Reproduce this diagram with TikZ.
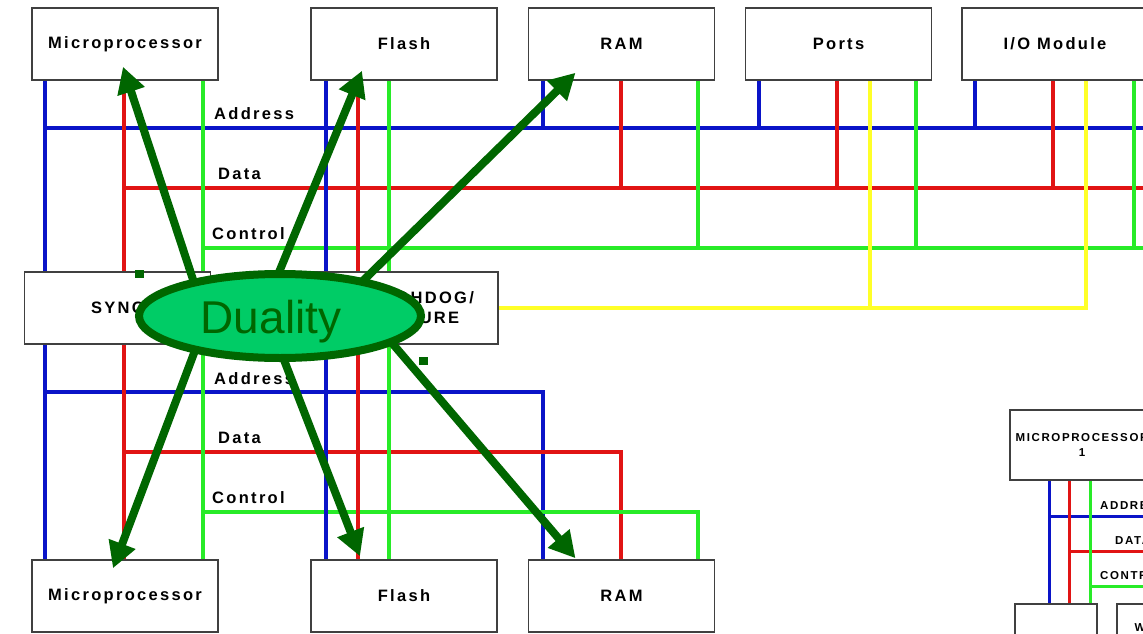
\documentclass[tikz,border=0pt]{standalone}
\usepackage{fontspec}
\setmainfont{Liberation Sans}
\newfontfamily\boxfont{Liberation Sans}[LetterSpace=14]
\usetikzlibrary{arrows.meta,shapes.geometric}

\definecolor{busblue}{RGB}{10,20,200}
\definecolor{busred}{RGB}{225,20,20}
\definecolor{busgreen}{RGB}{40,235,40}
\definecolor{busyellow}{RGB}{255,255,40}
\definecolor{dualfill}{RGB}{0,204,102}
\definecolor{dualdark}{RGB}{0,102,0}
\definecolor{boxgray}{RGB}{64,64,64}

\tikzset{
  unit/.style={draw=boxgray, line width=1.5pt, fill=white, inner sep=0pt,
    minimum width=186pt, minimum height=72pt,
    font=\boxfont\bfseries\fontsize{16.5}{20}\selectfont},
  smallunit/.style={unit, align=center,
    font=\boxfont\bfseries\fontsize{11.5}{15}\selectfont},
  addrbus/.style={draw=busblue, line width=4pt},
  databus/.style={draw=busred, line width=4pt},
  ctrlbus/.style={draw=busgreen, line width=4pt},
  wdogbus/.style={draw=busyellow, line width=4pt},
  buslabel/.style={anchor=west, inner sep=0pt,
    font=\boxfont\bfseries\fontsize{16.5}{20}\selectfont},
  smalllabel/.style={anchor=west, inner sep=0pt,
    font=\boxfont\bfseries\fontsize{11.5}{15}\selectfont},
  dualarrow/.style={draw=dualdark, line width=8pt,
    -{Triangle[length=26pt,width=27pt]}},
}

\begin{document}
\begin{tikzpicture}[x=1pt,y=-1pt]
                      \useasboundingbox (0,0) rectangle (1143,634);
                      \clip (0,0) rectangle (1143,634);

                      % Boxes are placed first so the buses can use them
                      \node[unit] (mpTop) at (125,44) {Microprocessor};
                      \node[unit] (flashTop) at (404,44) {Flash};
                      \node[unit] (ramTop) at (621.5,44) {RAM};
                      \node[unit] (portsTop) at (838.5,44) {Ports};
                      \node[unit] (ioTop) at (1055,44) {I/O Module};
                      \node[unit] (mpBot) at (125,596) {Microprocessor};
                      \node[unit] (flashBot) at (404,596) {Flash};
                      \node[unit] (ramBot) at (621.5,596) {RAM};
                      \node[smallunit, minimum width=144pt, minimum height=70pt] (mpOne) at (1082,445) {MICROPROCESSOR\\1};
                      \node[smallunit, minimum width=82pt, minimum height=48pt] (syncOne) at (1056,628) {};
                      \node[smallunit, minimum width=114pt, minimum height=48pt] (wdogOne) at (1174,628) {WATCHDOG};

                      \coordinate (addrTop) at (46,128);
                      \coordinate (dataTop) at (125,188);
                      \coordinate (ctrlTop) at (204,248);
                      \coordinate (addrBot) at (46,392);
                      \coordinate (dataBot) at (125,452);
                      \coordinate (ctrlBot) at (204,512);
                      \coordinate (addrOne) at (1050,516);
                      \coordinate (dataOne) at (1070,551);
                      \coordinate (ctrlOne) at (1091,586);
                      \coordinate (dualc) at (280,316);

                      % Draw horizontal buses
                      \draw[addrbus] (addrTop) -- (addrTop -| ioTop.east);
                      \draw[databus] (dataTop) -- (dataTop -| ioTop.east);
                      \draw[ctrlbus] (ctrlTop) -- (ctrlTop -| ioTop.east);
                      \draw[addrbus] (addrBot) -| ([xshift=15pt]ramBot.north west);
                      \draw[databus] (dataBot) -| ([xshift=93pt]ramBot.north west);
                      \draw[ctrlbus] (ctrlBot) -| ([xshift=170pt]ramBot.north west);
                      \draw[addrbus, line width=3pt] (addrOne) -- (addrOne -| wdogOne.east);
                      \draw[databus, line width=3pt] (dataOne) -- (dataOne -| wdogOne.east);
                      \draw[ctrlbus, line width=3pt] (ctrlOne) -- (ctrlOne -| wdogOne.east);

                      % Lines running from the top row to the bottom row
                      \foreach \dx/\sty in {14/addrbus,93/databus,172/ctrlbus}
                          {
                              \draw[\sty] ([xshift=\dx pt]mpTop.south west) -- ([xshift=\dx pt]mpBot.north west);
                          }
                      \foreach \dx/\sty in {16/addrbus,48/databus,79/ctrlbus}
                          {
                              \draw[\sty] ([xshift=\dx pt]flashTop.south west) -- ([xshift=\dx pt]flashBot.north west);
                          }
                      \foreach \dx/\sty in {40/addrbus,60/databus,81/ctrlbus}
                          {
                              \draw[\sty, line width=3pt] ([xshift=\dx pt]mpOne.south west) -- ([xshift=\dx pt]syncOne.north west -| mpOne.south west);
                          }

                      % Taps down to the buses
                      \foreach \bx/\dx in {ramTop/15,portsTop/14,ioTop/14}
                          {
                              \draw[addrbus] ([xshift=\dx pt]\bx.south west) -- ([xshift=\dx pt]\bx.south west |- addrTop);
                          }
                      \foreach \bx/\dx in {ramTop/93,portsTop/92,ioTop/92}
                          {
                              \draw[databus] ([xshift=\dx pt]\bx.south west) -- ([xshift=\dx pt]\bx.south west |- dataTop);
                          }
                      \foreach \bx/\dx in {ramTop/170,portsTop/171,ioTop/173}
                          {
                              \draw[ctrlbus] ([xshift=\dx pt]\bx.south west) -- ([xshift=\dx pt]\bx.south west |- ctrlTop);
                          }

                      % Middle boxes
                      \node[unit] (sync) at (117.5,308) {SYNC};
                      \node[unit, align=center] (watchdog) at (405,308) {\hspace*{18pt}WATCHDOG/\\\hspace*{24pt}FAILURE};

                      % Yellow line
                      \draw[wdogbus] (watchdog.east) -| ([xshift=125pt]ioTop.south west);
                      \draw[wdogbus] ([xshift=125pt]portsTop.south west) -- ([xshift=125pt]portsTop.south west |- watchdog.east);

                      % Bus names
                      \node[buslabel] (addrTxtTop) at (214,114) {Address};
                      \node[buslabel] (dataTxtTop) at (218,174) {Data};
                      \node[buslabel] (ctrlTxtTop) at (212,234) {Control};
                      \node[buslabel] (addrTxtBot) at (214,379) {Address};
                      \node[buslabel] (dataTxtBot) at (218,438) {Data};
                      \node[buslabel] (ctrlTxtBot) at (212,498) {Control};
                      \node[smalllabel] (addrTxtOne) at (1100,506) {ADDRESS};
                      \node[smalllabel] (dataTxtOne) at (1115,541) {DATA};
                      \node[smalllabel] (ctrlTxtOne) at (1100,576) {CONTROL};

                      % Draw arrows
                      \draw[dualarrow] ([xshift=-75pt]dualc) -- ([shift={(-2,-14)}]mpTop.south);
                      \draw[dualarrow] ([xshift=-19pt]dualc) -- ([shift={(-42,-10)}]flashTop.south);
                      \draw[dualarrow] ([xshift=47pt]dualc) -- ([shift={(-46,-8)}]ramTop.south);
                      \draw[dualarrow] ([xshift=-72pt]dualc) -- ([shift={(-12,9)}]mpBot.north);
                      \draw[dualarrow] ([xshift=-13pt]dualc) -- ([shift={(-44,-3)}]flashBot.north);
                      \draw[dualarrow] ([xshift=89pt]dualc) -- ([shift={(-46,-1)}]ramBot.north);

                      \node[ellipse, draw=dualdark, line width=8pt, fill=dualfill, inner sep=0pt,
                            minimum width=282pt, minimum height=84pt, text=dualdark,
                            font=\fontsize{46}{50}\selectfont, text height=34pt, text depth=0pt] (duality) at (dualc) {\hspace*{-18pt}Duality};

                      % Small squares
                      \filldraw[dualdark] (135,270) rectangle (143,277);
                      \filldraw[dualdark] (419,357) rectangle (427,364);

                  \end{tikzpicture}
\end{document}
